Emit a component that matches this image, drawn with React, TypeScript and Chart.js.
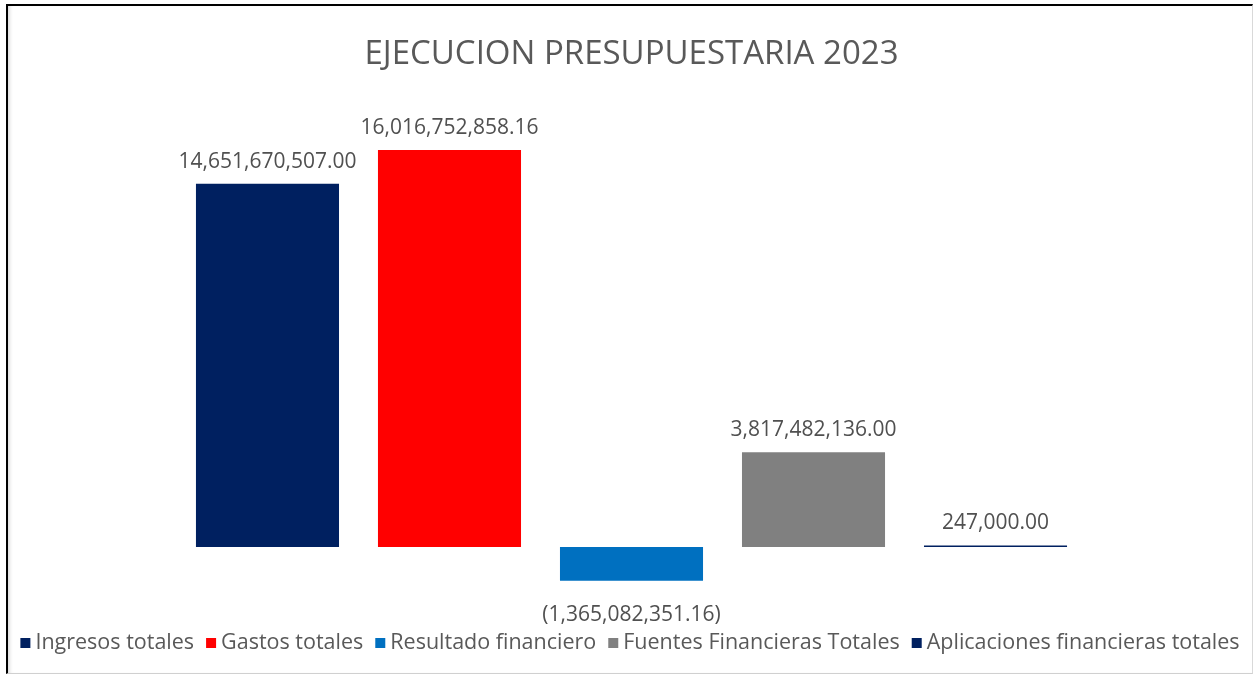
import React, { useEffect, useRef } from "react";
import { Chart, registerables } from "chart.js";

Chart.register(...registerables);

const title = "EJECUCION PRESUPUESTARIA 2023";
const categories = [""];
const seriesNames = [
  "Ingresos totales",
  "Gastos totales",
  "Resultado financiero",
  "Fuentes Financieras Totales",
  "Aplicaciones financieras totales",
];
const seriesValues = [
  14651670507.0,
  16016752858.16,
  -1365082351.16,
  3817482136.0,
  247000.0,
];
const seriesColors = ["#002060", "#FF0000", "#0070C0", "#808080", "#002060"];

const fmt = (v: number) => {
  const s = Math.abs(v).toLocaleString("en-US", {
    minimumFractionDigits: 2,
    maximumFractionDigits: 2,
  });
  return v < 0 ? `(${s})` : s;
};

const labelPlugin = {
  id: "barLabels",
  afterDatasetsDraw(chart: any) {
    const ctx = chart.ctx;
    ctx.save();
    ctx.font = "21px 'Open Sans', sans-serif";
    ctx.fillStyle = "#505050";
    ctx.textAlign = "center";
    ctx.textBaseline = "middle";
    chart.data.datasets.forEach((ds: any, i: number) => {
      const meta = chart.getDatasetMeta(i);
      meta.data.forEach((bar: any, j: number) => {
        const v = ds.data[j];
        const y = v >= 0 ? Math.min(bar.y, bar.base) - 22 : Math.max(bar.y, bar.base) + 34;
        ctx.fillText(fmt(v), bar.x, y);
      });
    });
    ctx.restore();
  },
};

const legendPlugin = {
  id: "bottomLegend",
  afterDraw(chart: any) {
    const ctx = chart.ctx;
    ctx.save();
    ctx.font = "21.5px 'Open Sans', sans-serif";
    ctx.textBaseline = "middle";
    ctx.textAlign = "left";
    const box = 10;
    const boxGap = 5;
    const itemGap = 12;
    const items = chart.data.datasets.map((ds: any) => ({
      text: ds.label,
      color: ds.backgroundColor,
      w: ctx.measureText(ds.label).width,
    }));
    const total =
      items.reduce((a: number, it: any) => a + box + boxGap + it.w, 0) +
      itemGap * (items.length - 1);
    const cy = 643;
    let x = 630 - total / 2;
    items.forEach((it: any) => {
      ctx.fillStyle = it.color;
      ctx.fillRect(x, cy - box / 2, box, box);
      x += box + boxGap;
      ctx.fillStyle = "#595959";
      ctx.fillText(it.text, x, cy);
      x += it.w + itemGap;
    });
    ctx.restore();
  },
};

export default function App() {
  const ref = useRef<HTMLCanvasElement>(null);
  useEffect(() => {
    if (!ref.current) return;
    Chart.defaults.font.family = "'Open Sans', sans-serif";
    const chart = new Chart(ref.current, {
      type: "bar",
      data: {
        labels: categories,
        datasets: seriesNames.map((name, i) => ({
          label: name,
          data: [seriesValues[i]],
          backgroundColor: seriesColors[i],
          borderWidth: 0,
          minBarLength: i === 4 ? 1.5 : 0,
        })),
      },
      options: {
        animation: false,
        responsive: false,
        events: [],
        layout: { padding: { left: 24, right: 17, top: 0, bottom: 70 } },
        datasets: {
          bar: { categoryPercentage: 0.749, barPercentage: 0.786 },
        },
        scales: {
          x: { display: false },
          y: { display: false, min: -2.38e9, max: 17.0e9 },
        },
        plugins: {
          title: {
            display: true,
            text: title,
            color: "#595959",
            font: { size: 33, weight: "normal" },
            padding: { top: 35, bottom: 51 },
          },
          legend: { display: false },
          tooltip: { enabled: false },
        },
      },
      plugins: [labelPlugin, legendPlugin],
    });
    return () => chart.destroy();
  }, []);

  return (
    <div style={{ position: "absolute", left: 0, top: 0, width: 1256, height: 676, background: "#fff" }}>
      <canvas ref={ref} width={1256} height={676} style={{ position: "absolute", left: 0, top: 0 }} />
      <div
        style={{
          position: "absolute",
          left: 6,
          top: 4,
          width: 1244,
          height: 667,
          borderTop: "2px solid #000",
          borderLeft: "2px solid #000",
          borderRight: "1px solid #d9d9d9",
          borderBottom: "1px solid #d0d0d0",
          boxShadow: "inset 4px 0 4px -3px #cfcfcf",
          pointerEvents: "none",
        }}
      />
    </div>
  );
}
